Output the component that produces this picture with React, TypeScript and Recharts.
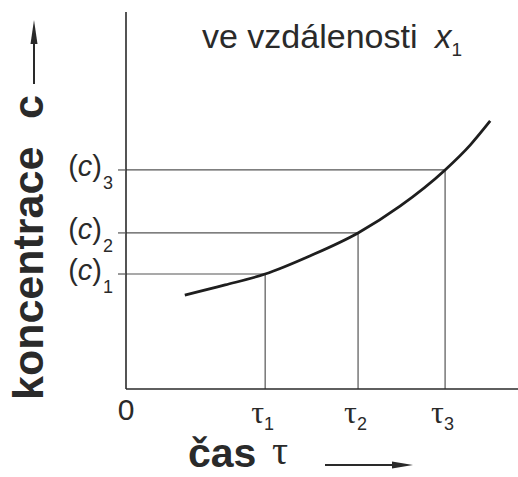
import React from 'react';
import { LineChart, Line, XAxis, YAxis, ReferenceLine } from 'recharts';

// chart values (arbitrary units, 0..10 on both axes)
const tauValues = [3.55, 5.92, 8.14];
const tauLabels = ['1', '2', '3'];
const concValues = [3.05, 4.14, 5.81];
const concLabels = ['1', '2', '3'];
const curveTime = [1.5, 2.53, 3.55, 4.69, 5.92, 6.99, 8.14, 8.78, 9.29];
const curveConc = [2.49, 2.76, 3.05, 3.53, 4.14, 4.85, 5.81, 6.47, 7.11];

const curveData = curveTime.map((t, i) => ({ t, c: curveConc[i] }));

const SANS = '"Liberation Sans", Arial, sans-serif';
const SERIF = '"Liberation Serif", "Times New Roman", serif';
const INK = '#2a2a2a';

const TimeTick = (props: any) => {
  const { x, payload } = props;
  if (payload.value === 0) {
    return (
      <text x={x} y={420} textAnchor="middle" fontFamily={SANS} fontSize={30} fill={INK}>
        0
      </text>
    );
  }
  const i = tauValues.indexOf(payload.value);
  return (
    <text x={x - 14} y={423} fontFamily={SERIF} fontSize={32} fill={INK}>
      τ
      <tspan fontFamily={SANS} fontSize={18} dy={7}>{tauLabels[i]}</tspan>
    </text>
  );
};

const ConcTick = (props: any) => {
  const { y, payload } = props;
  const i = concValues.indexOf(payload.value);
  return (
    <text x={102} y={y + 6} textAnchor="end" fontFamily={SANS} fontSize={29} fill={INK}>
      (<tspan fontStyle="italic">c</tspan>)
      <tspan x={103} textAnchor="start" fontSize={18} dy={13}>{concLabels[i]}</tspan>
    </text>
  );
};

export default function App() {
  return (
    <div style={{ position: 'absolute', left: 0, top: 0, background: '#fff' }}>
      <LineChart
        width={518}
        height={477}
        data={curveData}
        margin={{ top: 12, right: 0, left: 0, bottom: 0 }}
      >
        <XAxis
          type="number"
          dataKey="t"
          domain={[0, 10]}
          ticks={[0, ...tauValues]}
          tick={<TimeTick />}
          tickLine={false}
          axisLine={{ stroke: INK, strokeWidth: 1.6 }}
          height={88}
          interval={0}
        />
        <YAxis
          type="number"
          dataKey="c"
          domain={[0, 10]}
          ticks={concValues}
          tick={<ConcTick />}
          tickLine={{ stroke: '#555', strokeWidth: 1.2 }}
          tickSize={8}
          axisLine={{ stroke: INK, strokeWidth: 1.6 }}
          width={126}
          interval={0}
        />
        {tauValues.map((t, i) => (
          <ReferenceLine
            key={`h-${i}`}
            segment={[{ x: 0, y: concValues[i] }, { x: t, y: concValues[i] }]}
            stroke="#555"
            strokeWidth={1.2}
          />
        ))}
        {tauValues.map((t, i) => (
          <ReferenceLine
            key={`v-${i}`}
            segment={[{ x: t, y: 0 }, { x: t, y: concValues[i] }]}
            stroke="#555"
            strokeWidth={1.2}
          />
        ))}
        <Line
          type="monotone"
          dataKey="c"
          stroke="#1e1e1e"
          strokeWidth={2.8}
          dot={false}
          isAnimationActive={false}
        />

        {/* title */}
        <text x={202} y={48} fontFamily={SANS} fontSize={34} fill={INK}>
          ve vzdálenosti
        </text>
        <text x={435} y={48} fontFamily={SANS} fontSize={33} fill={INK}>
          <tspan fontStyle="italic">x</tspan>
          <tspan fontSize={19} dy={8}>1</tspan>
        </text>

        {/* y axis label */}
        <text
          x={0}
          y={0}
          transform="translate(43, 400) rotate(-90)"
          fontFamily={SANS}
          fontSize={43}
          fontWeight="bold"
          fill={INK}
        >
          koncentrace
        </text>
        <text
          x={0}
          y={0}
          transform="translate(43, 119) rotate(-90)"
          fontFamily={SANS}
          fontSize={43}
          fontWeight="bold"
          fill={INK}
        >
          c
        </text>
        <line x1={34} y1={84} x2={34} y2={36} stroke={INK} strokeWidth={2} />
        <polygon points="34,20 30.5,44 37.5,44" fill={INK} />

        {/* x axis label */}
        <text x={188} y={467} fontFamily={SANS} fontSize={41} fontWeight="bold" fill={INK}>
          čas
        </text>
        <text x={272} y={464} fontFamily={SERIF} fontSize={40} fill={INK}>
          τ
        </text>
        <line x1={325} y1={465} x2={396} y2={465} stroke={INK} strokeWidth={2} />
        <polygon points="413,465 392,461.5 392,468.5" fill={INK} />
      </LineChart>
    </div>
  );
}
